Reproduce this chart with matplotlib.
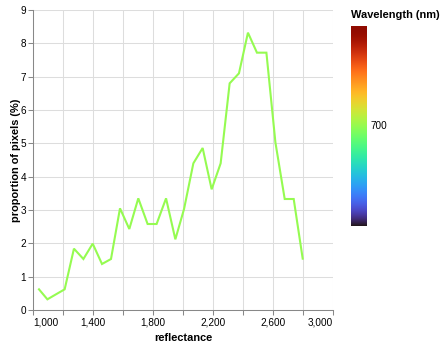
import numpy as np
import matplotlib
matplotlib.use("Agg")
import matplotlib.pyplot as plt

plt.rcParams['font.family'] = ['Liberation Sans', 'DejaVu Sans']

# data
reflectance = [1040, 1096, 1153, 1211, 1273, 1336, 1398, 1460, 1520, 1580,
               1642, 1702, 1764, 1824, 1887, 1949, 2007, 2069, 2131, 2191,
               2251, 2311, 2373, 2433, 2493, 2556, 2616, 2678, 2738, 2798]
proportion = [0.62, 0.32, 0.47, 0.62, 1.84, 1.53, 1.99, 1.38, 1.53, 3.05,
              2.43, 3.35, 2.58, 2.58, 3.35, 2.12, 3.03, 4.40, 4.86, 3.62,
              4.40, 6.80, 7.10, 8.32, 7.72, 7.72, 5.03, 3.33, 3.33, 1.54]
x_ticks = list(range(1000, 3001, 200))
x_labels = ["1,000", "", "1,400", "", "1,800", "", "2,200", "", "2,600", "", "3,000"]
y_ticks = list(range(0, 10))
legend_label = "700"


def turbo(t):
    # d3 interpolateTurbo polynomial
    t = np.clip(t, 0, 1)
    r = 34.61 + t * (1172.33 - t * (10793.56 - t * (33300.12 - t * (38394.49 - t * 14825.05))))
    g = 23.31 + t * (557.33 + t * (1225.33 - t * (3574.96 - t * (1073.77 + t * 707.56))))
    b = 27.2 + t * (3211.1 - t * (15327.97 - t * (27814 - t * (22569.18 - t * 6838.66))))
    return np.clip(np.stack([r, g, b], axis=-1) / 255, 0, 1)


W, H = 445, 347
fig = plt.figure(figsize=(W / 100, H / 100), dpi=100)
ax = fig.add_axes([33 / W, 1 - 310 / H, 300 / W, 300 / H])

ax.plot(reflectance, proportion, color=turbo(0.5), lw=1.5, zorder=3,
        solid_joinstyle='miter')

ax.set_xlim(1000, 3000)
ax.set_ylim(0, 9)
ax.set_xticks(x_ticks)
ax.set_xticklabels(x_labels)
ax.set_yticks(y_ticks)
ax.grid(True, color='#dddddd', lw=0.75, zorder=0)
ax.set_axisbelow(True)
for s in ['top', 'right']:
    ax.spines[s].set_visible(False)
for s in ['left', 'bottom']:
    ax.spines[s].set_color('#888888')
    ax.spines[s].set_linewidth(0.75)
ax.tick_params(length=3.6, width=0.75, color='#888888', labelsize=7.2,
               labelcolor='#000000', pad=1.5)
labs = ax.get_xticklabels()
labs[0].set_horizontalalignment('left')
labs[-1].set_horizontalalignment('right')

ax.set_xlabel("reflectance", fontsize=7.9, fontweight='bold', labelpad=4)
ax.set_ylabel("proportion of pixels (%)", fontsize=7.9, fontweight='bold')
ax.yaxis.set_label_coords(-12 / 300, 0.5)

# gradient legend
cax = fig.add_axes([351 / W, 1 - 226 / H, 16 / W, 200 / H])
grad = turbo(np.linspace(1, 0, 256))[:, None, :]
cax.imshow(grad, aspect='auto', extent=[0, 1, 0, 1])
cax.set_xticks([])
cax.set_yticks([])
for s in cax.spines.values():
    s.set_visible(False)
fig.text(351 / W, 1 - 15 / H, "Wavelength (nm)", fontsize=7.9, fontweight='bold',
         ha='left', va='center')
fig.text(371 / W, 1 - 126 / H, legend_label, fontsize=7.2, ha='left', va='center')

fig.savefig("out.png", dpi=100)
